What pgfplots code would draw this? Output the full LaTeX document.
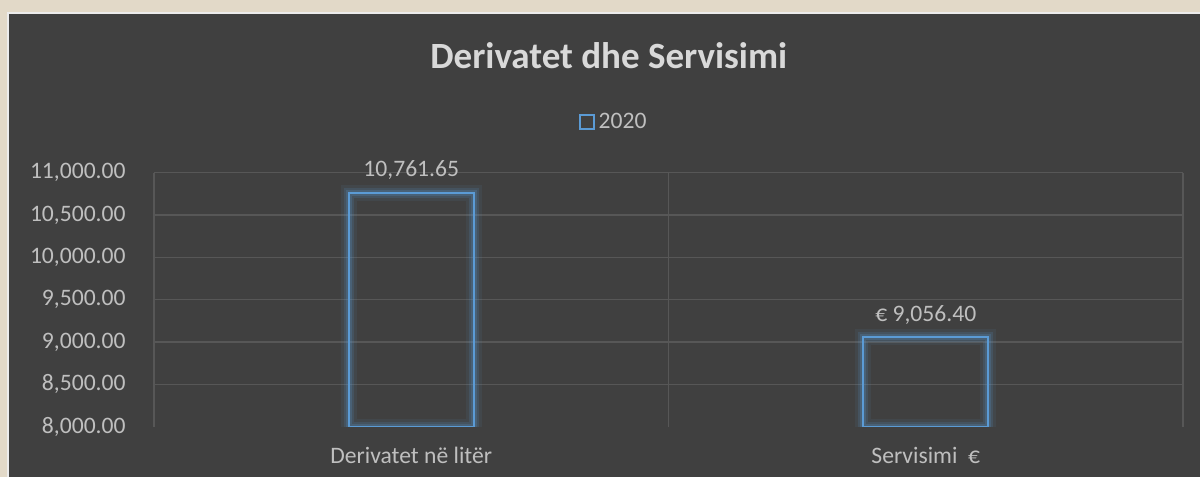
\documentclass[border=0pt]{standalone}
\usepackage{fontspec}
\setmainfont{Carlito}
\usepackage{pgfplots}
\usepackage{pgfplotstable}
\pgfplotsset{compat=1.18}
\definecolor{panel}{HTML}{404040}
\definecolor{beige}{HTML}{E2D9C8}
\definecolor{barblue}{HTML}{5B9BD5}
\definecolor{txt}{HTML}{BFBFBF}
\definecolor{titlec}{HTML}{D9D9D9}
\definecolor{gridc}{HTML}{575757}

\pgfplotstableread{
x y label
0 10761.65 {10,761.65}
1 9056.40 {€ 9,056.40}
}\datatable

\begin{document}
\begin{tikzpicture}
\fill[beige] (-77pt,-25.15pt) rectangle (523pt,213.35pt);
\useasboundingbox (-77pt,-25.15pt) rectangle (523pt,213.35pt);
\fill[panel] (-73pt,-25.15pt) rectangle (523pt,206.85pt);
\draw[color=white!85!gray, line width=0.6pt] (-73pt,-25.15pt) -- (-73pt,206.85pt) -- (523pt,206.85pt);
\begin{axis}[
  scale only axis,
  width=514.5pt, height=127pt,
  at={(0,0)}, anchor=south west,
  xmin=-0.5, xmax=1.5,
  ymin=8000, ymax=11000,
  y coord trafo/.code={\pgfmathparse{#1-8000}},
  y coord inv trafo/.code={\pgfmathparse{#1+8000}},
  xtick={0,1},
  xticklabels={Derivatet në litër, {Servisimi\ \ €}},
  ytick={8000,8500,...,11000},
  extra y ticks={8500,9000,...,11000},
  extra y tick labels={},
  extra y tick style={ymajorgrids=true, major grid style={draw=gridc, line width=0.75pt}},
  minor xtick={-0.5,0.5,1.5},
  xminorgrids=true,
  minor grid style={draw=gridc, line width=0.75pt},
  major tick length=0pt, minor tick length=0pt,
  axis line style={draw=none},
  tick label style={font=\fontsize{11.8}{14}\selectfont, text=txt},
  yticklabel style={anchor=east, inner xsep=0pt, xshift=-14pt,
    /pgf/number format/.cd, fixed, fixed zerofill, precision=2, 1000 sep={,}, assume math mode=true},
  xticklabel style={anchor=base, yshift=-18.6pt},
  title={Derivatet dhe Servisimi},
  title style={font=\bfseries\fontsize{18.5}{22}\selectfont, text=titlec, at={(0.442,1.412)}, anchor=center},
  legend style={at={(0.4476,1.2)}, anchor=center, draw=none, fill=none,
    font=\fontsize{11.8}{14}\selectfont, text=txt, inner sep=0pt},
  legend image code/.code={\draw[draw=barblue, line width=1pt, fill=none] (0pt,-3.5pt) rectangle (7pt,3.5pt);},
]
\addplot[ybar, bar width=62.5pt, draw=barblue, draw opacity=0.08, line width=8pt, fill=none, forget plot]
  table[x=x, y=y] {\datatable};
\addplot[ybar, bar width=62.5pt, draw=barblue, draw opacity=0.15, line width=5pt, fill=none, forget plot]
  table[x=x, y=y] {\datatable};
\addplot[ybar, bar width=62.5pt, draw=barblue, draw opacity=0.2, line width=2.8pt, fill=none, forget plot]
  table[x=x, y=y] {\datatable};
\addplot[ybar, bar width=62.5pt, draw=barblue, line width=1.2pt, fill=none,
  nodes near coords, point meta=explicit symbolic,
  every node near coord/.append style={font=\fontsize{11.8}{14}\selectfont, text=txt, anchor=base, yshift=8pt}]
  table[x=x, y=y, meta=label] {\datatable};
\addlegendentry{2020}
\end{axis}
\end{tikzpicture}
\end{document}
